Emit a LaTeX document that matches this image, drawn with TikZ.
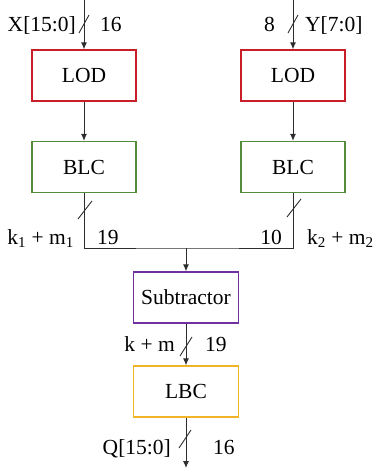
\documentclass[tikz,border=0pt]{standalone}
\usepackage{fontspec}
\setmainfont{Liberation Serif}
\usetikzlibrary{arrows.meta,calc}
\definecolor{lodred}{RGB}{200,30,40}
\definecolor{blcgreen}{RGB}{84,140,60}
\definecolor{subpurple}{RGB}{112,48,160}
\definecolor{lbcgold}{RGB}{240,180,40}
\definecolor{wire}{RGB}{45,45,45}
\tikzset{
  blockbox/.style={draw, line width=1.2pt, minimum width=104pt, minimum height=51pt, inner sep=0pt, font=\fontsize{21.5}{25}\selectfont, fill=white},
  lbl/.style={inner sep=0pt, font=\fontsize{21.5}{25}\selectfont},
  wireline/.style={draw=wire, line width=1pt},
  arr/.style={wireline, -{Latex[length=7pt,width=6pt]}},
  busslash/.style={draw=wire, line width=0.9pt}
}
\begin{document}
\begin{tikzpicture}[x=1pt,y=-1pt]
\useasboundingbox (0,0) rectangle (373,475);
% blocks
\node[blockbox, draw=lodred] (lodL) at (84,75.5) {LOD};
\node[blockbox, draw=lodred] (lodR) at (293,75.5) {LOD};
\node[blockbox, draw=blcgreen] (blcL) at (84,167) {BLC};
\node[blockbox, draw=blcgreen] (blcR) at (293,167) {BLC};
\node[blockbox, draw=subpurple, minimum width=105pt] (sub) at (186,297.5) {Subtractor};
\node[blockbox, draw=lbcgold, minimum width=105pt] (lbc) at (186,391.5) {LBC};
% free ends
\coordinate (inX) at (84,0);
\coordinate (inY) at (293,0);
\coordinate (bus) at (186,248);
\coordinate (outQ) at (186,468);
% connectors
\draw[arr] (inX) -- (lodL.north);
\draw[arr] (inY) -- (lodR.north);
\draw[arr] (lodL.south) -- (blcL.north);
\draw[arr] (lodR.south) -- (blcR.north);
\draw[wireline] (blcL.south) |- (bus) -| (blcR.south);
\draw[arr] (bus) -- (sub.north);
\draw[arr] (sub.south) -- (lbc.north);
\draw[arr] (lbc.south) -- (outQ);
% bus width slashes
\draw[busslash] (84,24) ++(-5,9) -- ++(10,-18);
\draw[busslash] (293,24) ++(-5,9) -- ++(10,-18);
\draw[busslash] (85,210) ++(-7,9) -- ++(14,-18);
\draw[busslash] (294,208) ++(-7,9) -- ++(14,-18);
\draw[busslash] (186,346.5) ++(-6,9.5) -- ++(12,-19);
\draw[busslash] (185,439) ++(-6,9) -- ++(12,-18);
% labels
\node[lbl, anchor=base east] (tX) at (76,31) {X[15:0]};
\node[lbl, anchor=base west] (t16a) at (100,31) {16};
\node[lbl, anchor=base east] (t8) at (275,31) {8};
\node[lbl, anchor=base west] (tY) at (305,31) {Y[7:0]};
\node[lbl, anchor=base east] (tk1) at (74,244) {k\textsubscript{1} + m\textsubscript{1}};
\node[lbl, anchor=base west] (t19a) at (97,244) {19};
\node[lbl, anchor=base east] (t10) at (282,244) {10};
\node[lbl, anchor=base west] (tk2) at (307,244) {k\textsubscript{2} + m\textsubscript{2}};
\node[lbl, anchor=base east] (tkm) at (175,351) {k + m};
\node[lbl, anchor=base west] (t19b) at (205,351) {19};
\node[lbl, anchor=base east] (tQ) at (171,454) {Q[15:0]};
\node[lbl, anchor=base west] (t16b) at (213,454) {16};
\end{tikzpicture}
\end{document}
